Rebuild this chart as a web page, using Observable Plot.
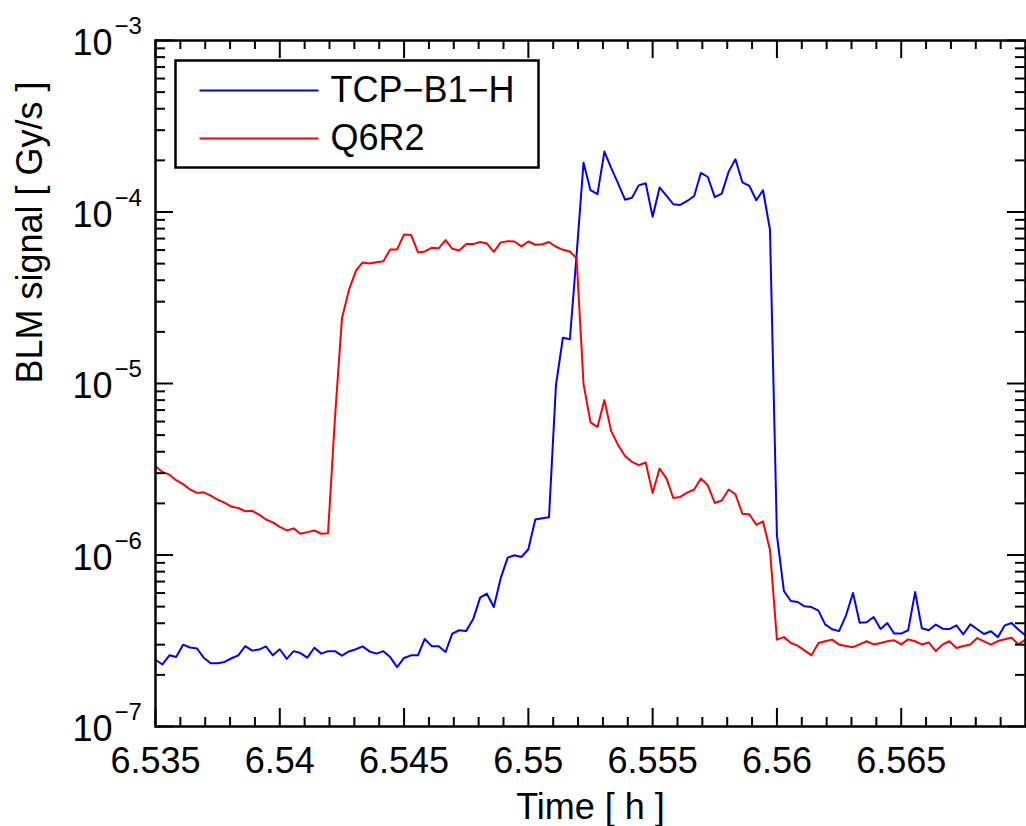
<!DOCTYPE html>
<html>
<head>
<meta charset="utf-8">
<script src="https://cdn.jsdelivr.net/npm/d3@7"></script>
<script src="https://cdn.jsdelivr.net/npm/@observablehq/plot@0.6"></script>
<style>
  html, body { margin: 0; padding: 0; background: #fff; }
  #wrap { position: relative; width: 1026px; height: 826px; }
</style>
</head>
<body>
<div id="wrap"></div>
<script>
// ---- Data ----
// Time [h], one sample per second
const time = [
  6.53500, 6.53528, 6.53556, 6.53583, 6.53611, 6.53639, 6.53667, 6.53694, 6.53722, 6.53750, 6.53778, 6.53806, 6.53833, 6.53861, 6.53889, 6.53917, 6.53944, 6.53972,
  6.54000, 6.54028, 6.54056, 6.54083, 6.54111, 6.54139, 6.54167, 6.54194, 6.54222, 6.54250, 6.54278, 6.54306, 6.54333, 6.54361, 6.54389, 6.54417, 6.54444, 6.54472,
  6.54500, 6.54528, 6.54556, 6.54583, 6.54611, 6.54639, 6.54667, 6.54694, 6.54722, 6.54750, 6.54778, 6.54806, 6.54833, 6.54861, 6.54889, 6.54917, 6.54944, 6.54972,
  6.55000, 6.55028, 6.55056, 6.55083, 6.55111, 6.55139, 6.55167, 6.55194, 6.55222, 6.55250, 6.55278, 6.55306, 6.55333, 6.55361, 6.55389, 6.55417, 6.55444, 6.55472,
  6.55500, 6.55528, 6.55556, 6.55583, 6.55611, 6.55639, 6.55667, 6.55694, 6.55722, 6.55750, 6.55778, 6.55806, 6.55833, 6.55861, 6.55889, 6.55917, 6.55944, 6.55972,
  6.56000, 6.56028, 6.56056, 6.56083, 6.56111, 6.56139, 6.56167, 6.56194, 6.56222, 6.56250, 6.56278, 6.56306, 6.56333, 6.56361, 6.56389, 6.56417, 6.56444, 6.56472,
  6.56500, 6.56528, 6.56556, 6.56583, 6.56611, 6.56639, 6.56667, 6.56694, 6.56722, 6.56750, 6.56778, 6.56806, 6.56833, 6.56861, 6.56889, 6.56917, 6.56944, 6.56972,
  6.57000
];

// TCP-B1-H BLM signal [Gy/s]
const tcpB1H = [
  2.45e-7, 2.30e-7, 2.60e-7, 2.54e-7, 3.00e-7, 2.89e-7, 2.85e-7, 2.52e-7, 2.34e-7, 2.34e-7,
  2.38e-7, 2.50e-7, 2.60e-7, 2.94e-7, 2.77e-7, 2.81e-7, 2.93e-7, 2.60e-7, 2.82e-7, 2.48e-7,
  2.75e-7, 2.68e-7, 2.52e-7, 2.88e-7, 2.66e-7, 2.75e-7, 2.75e-7, 2.59e-7, 2.74e-7, 2.82e-7,
  2.93e-7, 2.74e-7, 2.66e-7, 2.75e-7, 2.54e-7, 2.22e-7, 2.51e-7, 2.60e-7, 2.60e-7, 3.24e-7,
  2.94e-7, 2.94e-7, 2.72e-7, 3.48e-7, 3.64e-7, 3.60e-7, 4.23e-7, 5.64e-7, 5.95e-7, 4.98e-7,
  7.35e-7, 9.66e-7, 9.96e-7, 9.73e-7, 1.08e-6, 1.61e-6, 1.64e-6, 1.66e-6, 9.77e-6, 1.85e-5,
  1.81e-5, 5.61e-5, 1.94e-4, 1.34e-4, 1.27e-4, 2.25e-4, 1.81e-4, 1.47e-4, 1.18e-4, 1.21e-4,
  1.43e-4, 1.47e-4, 9.37e-5, 1.39e-4, 1.24e-4, 1.11e-4, 1.10e-4, 1.16e-4, 1.24e-4, 1.69e-4,
  1.60e-4, 1.22e-4, 1.28e-4, 1.72e-4, 2.03e-4, 1.49e-4, 1.42e-4, 1.17e-4, 1.34e-4, 7.91e-5,
  1.30e-6, 6.17e-7, 5.39e-7, 5.32e-7, 5.02e-7, 4.97e-7, 4.74e-7, 3.94e-7, 3.69e-7, 3.60e-7,
  4.45e-7, 6.00e-7, 4.03e-7, 4.05e-7, 4.35e-7, 3.70e-7, 4.01e-7, 3.48e-7, 3.48e-7, 3.64e-7,
  6.08e-7, 3.74e-7, 3.64e-7, 3.93e-7, 3.72e-7, 3.70e-7, 3.89e-7, 3.45e-7, 3.94e-7, 3.69e-7,
  3.46e-7, 3.59e-7, 3.32e-7, 3.89e-7, 4.01e-7, 3.67e-7, 3.40e-7
];

// Q6R2 BLM signal [Gy/s]
const q6r2 = [
  3.29e-6, 3.05e-6, 2.94e-6, 2.73e-6, 2.59e-6, 2.41e-6, 2.30e-6, 2.32e-6, 2.22e-6, 2.10e-6,
  2.02e-6, 1.91e-6, 1.88e-6, 1.80e-6, 1.81e-6, 1.72e-6, 1.61e-6, 1.55e-6, 1.46e-6, 1.39e-6,
  1.43e-6, 1.33e-6, 1.36e-6, 1.39e-6, 1.33e-6, 1.34e-6, 6.30e-6, 2.39e-5, 3.50e-5, 4.54e-5,
  5.08e-5, 5.01e-5, 5.10e-5, 5.17e-5, 6.05e-5, 6.05e-5, 7.40e-5, 7.35e-5, 5.81e-5, 5.89e-5,
  6.18e-5, 6.14e-5, 6.86e-5, 6.10e-5, 5.97e-5, 6.50e-5, 6.50e-5, 6.68e-5, 6.56e-5, 5.86e-5,
  6.65e-5, 6.76e-5, 6.73e-5, 6.30e-5, 6.73e-5, 6.44e-5, 6.48e-5, 6.68e-5, 6.27e-5, 6.02e-5,
  5.89e-5, 5.38e-5, 9.91e-6, 5.94e-6, 5.58e-6, 8.00e-6, 5.29e-6, 4.37e-6, 3.78e-6, 3.49e-6,
  3.34e-6, 3.46e-6, 2.30e-6, 3.19e-6, 2.79e-6, 2.15e-6, 2.18e-6, 2.31e-6, 2.41e-6, 2.79e-6,
  2.55e-6, 2.01e-6, 2.08e-6, 2.41e-6, 2.26e-6, 1.74e-6, 1.73e-6, 1.50e-6, 1.57e-6, 1.07e-6,
  3.21e-7, 3.32e-7, 3.07e-7, 2.96e-7, 2.78e-7, 2.60e-7, 3.07e-7, 3.14e-7, 3.21e-7, 3.00e-7,
  2.95e-7, 2.90e-7, 3.01e-7, 3.14e-7, 3.01e-7, 3.07e-7, 3.14e-7, 3.18e-7, 3.01e-7, 3.22e-7,
  3.14e-7, 3.01e-7, 3.09e-7, 2.75e-7, 3.01e-7, 3.14e-7, 2.87e-7, 2.95e-7, 3.01e-7, 3.28e-7,
  3.14e-7, 3.00e-7, 3.15e-7, 3.23e-7, 3.29e-7, 3.01e-7, 3.21e-7
];

const seriesNames = ["TCP\u2212B1\u2212H", "Q6R2"];
const seriesColors = ["#0000ff", "#ff0000"];

const xTicks = [6.535, 6.54, 6.545, 6.55, 6.555, 6.56, 6.565];
const xTickLabels = ["6.535", "6.54", "6.545", "6.55", "6.555", "6.56", "6.565"];
const yTicks = [1e-7, 1e-6, 1e-5, 1e-4, 1e-3];
const yTickBase = ["10", "10", "10", "10", "10"];
const yTickExp = ["\u22127", "\u22126", "\u22125", "\u22124", "\u22123"];
const xTitle = "Time [ h ]";
const yTitle = "BLM signal [ Gy/s ]";

// ---- Build ----
const W = 1026, H = 826;
const mL = 155, mR = 1, mT = 40, mB = 100;
const innerW = W - mL - mR, innerH = H - mT - mB;

const rows = [];
time.forEach((t, i) => rows.push({t, v: tcpB1H[i], c: seriesColors[0]}));
time.forEach((t, i) => rows.push({t, v: q6r2[i], c: seriesColors[1]}));

const xMinor = d3.range(0, 36).filter(k => k % 5 !== 0).map(k => +(6.535 + k * 0.001).toFixed(3));
const yMinor = [];
for (let e = -7; e < -3; e++) for (let m = 2; m <= 9; m++) yMinor.push(+(m * Math.pow(10, e)).toPrecision(2));

const majLen = 18, minLenX = 9, minLenY = 10;
const font = "Liberation Sans, Arial, Helvetica, sans-serif";

// tick style given per element (channel) so each tick line carries its own stroke
const tk = {stroke: () => "#000000", strokeWidth: () => 2};

// legend layout (pixel insets inside the plot frame)
const legendMarks = [
  Plot.frame({insetLeft: 20, insetTop: 20, insetRight: 487, insetBottom: 559, fill: "white", stroke: "black", strokeWidth: 2.5})
];
seriesNames.forEach((name, i) => {
  const top = 49 + 48 * i;
  legendMarks.push(
    Plot.frame({insetLeft: 44, insetRight: innerW - 163, insetTop: top, insetBottom: innerH - top - 2, fill: seriesColors[i], stroke: "none"}),
    Plot.text([name], {text: d => d, frameAnchor: "top-left", dx: 175, dy: top + 1, textAnchor: "start", lineAnchor: "middle", fontSize: 36, fill: "black"})
  );
});

const chart = Plot.plot({
  width: W, height: H,
  marginLeft: mL, marginRight: mR, marginTop: mT, marginBottom: mB,
  x: {domain: [6.535, 6.57], axis: null},
  y: {type: "log", domain: [1e-7, 1e-3], axis: null},
  color: {type: "identity"},
  style: {fontFamily: font, background: "white", color: "black", overflow: "visible"},
  marks: [
    Plot.line(rows, {x: "t", y: "v", z: "c", stroke: "c", strokeWidth: 2, strokeLinejoin: "round"}),
    // bottom ticks (inward)
    Plot.tickX(xTicks, {x: d => d, insetTop: innerH - majLen, ...tk}),
    Plot.tickX(xMinor, {x: d => d, insetTop: innerH - minLenX, ...tk}),
    // top ticks (inward)
    Plot.tickX(xTicks, {x: d => d, insetBottom: innerH - majLen, ...tk}),
    Plot.tickX(xMinor, {x: d => d, insetBottom: innerH - minLenX, ...tk}),
    // left ticks (inward)
    Plot.tickY(yTicks, {y: d => d, insetRight: innerW - majLen, ...tk}),
    Plot.tickY(yMinor, {y: d => d, insetRight: innerW - minLenY, ...tk}),
    // right ticks (inward)
    Plot.tickY(yTicks, {y: d => d, insetLeft: innerW - majLen, ...tk}),
    Plot.tickY(yMinor, {y: d => d, insetLeft: innerW - minLenY, ...tk}),
    Plot.frame({stroke: "black", strokeWidth: 2.5}),
    // x tick labels
    Plot.text(xTicks, {x: d => d, text: (d, i) => xTickLabels[i], frameAnchor: "bottom", lineAnchor: "top", dy: 21, fontSize: 36, fill: "black"}),
    // y tick labels: base and exponent
    Plot.text(yTicks, {y: d => d, text: (d, i) => yTickBase[i], frameAnchor: "left", textAnchor: "end", lineAnchor: "middle", dx: -43, dy: 3, fontSize: 36, fill: "black"}),
    Plot.text(yTicks, {y: d => d, text: (d, i) => yTickExp[i], frameAnchor: "left", textAnchor: "start", lineAnchor: "middle", dx: -41, dy: -14, fontSize: 24, fill: "black"}),
    // axis titles
    Plot.text([xTitle], {text: d => d, frameAnchor: "bottom", lineAnchor: "top", dy: 67, fontSize: 36, fill: "black"}),
    Plot.text([yTitle], {text: d => d, frameAnchor: "left", rotate: -90, dx: -125, fontSize: 36, fill: "black"}),
    ...legendMarks
  ]
});

document.getElementById("wrap").appendChild(chart);
</script>
</body>
</html>
